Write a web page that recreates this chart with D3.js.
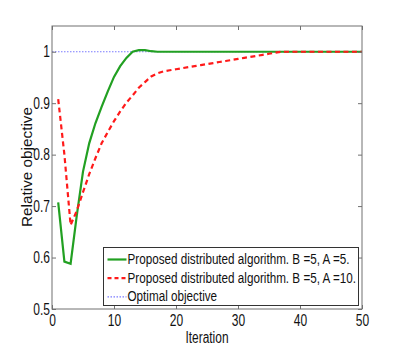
<!DOCTYPE html>
<html>
<head>
<meta charset="utf-8">
<script src="https://cdn.jsdelivr.net/npm/d3@7"></script>
<style>
  body { margin: 0; background: #fff; }
  svg text { font-family: "Liberation Sans", Arial, sans-serif; fill: #111; }
</style>
</head>
<body>
<svg id="chart" width="399" height="349"></svg>
<script>
'use strict';

// iterations 1..50
var iterations = d3.range(1, 51);

// B = 5, A = 5
var greenVals = [
  0.707, 0.592, 0.588, 0.682, 0.767, 0.822, 0.861, 0.893, 0.923, 0.951,
  0.972, 0.988, 1.000, 1.003, 1.003, 1.001, 1.000, 1.000, 1.000, 1.000,
  1.000, 1.000, 1.000, 1.000, 1.000, 1.000, 1.000, 1.000, 1.000, 1.000,
  1.000, 1.000, 1.000, 1.000, 1.000, 1.000, 1.000, 1.000, 1.000, 1.000,
  1.000, 1.000, 1.000, 1.000, 1.000, 1.000, 1.000, 1.000, 1.000, 1.000
];

// B = 5, A = 10
var redVals = [
  0.908, 0.800, 0.663, 0.691, 0.727, 0.762, 0.793, 0.822, 0.844, 0.865,
  0.884, 0.901, 0.915, 0.930, 0.941, 0.952, 0.958, 0.962, 0.964, 0.966,
  0.968, 0.970, 0.972, 0.974, 0.976, 0.978, 0.980, 0.982, 0.984, 0.986,
  0.988, 0.990, 0.992, 0.994, 0.996, 0.998, 1.000, 1.000, 1.000, 1.000,
  1.000, 1.000, 1.000, 1.000, 1.000, 1.000, 1.000, 1.000, 1.000, 1.000
];

var optimalIters = [0, 50];
var optimalVals = [1, 1];

var xTicks = [0, 10, 20, 30, 40, 50];
var yTicks = [0.5, 0.6, 0.7, 0.8, 0.9, 1];

var legendLabels = [
  "Proposed distributed algorithm. B =5, A =5.",
  "Proposed distributed algorithm. B =5, A =10.",
  "Optimal objective"
];

var margin = {top: 26, right: 37, bottom: 40, left: 52};
var W = 399, H = 349;

// squeeze text horizontally (MATLAB's narrow helvetica look)
function narrow(sel, k) {
  sel.each(function () {
    var len = this.getComputedTextLength();
    d3.select(this).attr("textLength", len * k).attr("lengthAdjust", "spacingAndGlyphs");
  });
}

var svg = d3.select("#chart");
var x = d3.scaleLinear().domain([0, 50]).range([margin.left, W - margin.right]);
var y = d3.scaleLinear().domain([0.5, 1.05]).range([H - margin.bottom, margin.top]);

var axisColor = "#707070";

var line = d3.line().x(function (d) { return x(d[0]); }).y(function (d) { return y(d[1]); });

var plot = svg.append("g");
plot.append("path")
  .datum(optimalIters.map(function (t, i) { return [t, optimalVals[i]]; }))
  .attr("d", line).attr("fill", "none")
  .attr("stroke", "#7b7bff").attr("stroke-width", 1.2).attr("stroke-dasharray", "1.5,1.5");

plot.append("path")
  .datum(iterations.map(function (t, i) { return [t, greenVals[i]]; }))
  .attr("d", line).attr("fill", "none")
  .attr("stroke", "#22a022").attr("stroke-width", 2.2);

plot.append("path")
  .datum(iterations.map(function (t, i) { return [t, redVals[i]]; }))
  .attr("d", line).attr("fill", "none")
  .attr("stroke", "#ff1a1a").attr("stroke-width", 2.2).attr("stroke-dasharray", "5,3.5");

// box + ticks, inward and mirrored
var x0 = x.range()[0], x1 = x.range()[1], yb = y(0.5), yt = y(1.05);

svg.append("g").attr("transform", "translate(0," + yb + ")")
  .call(d3.axisBottom(x).tickValues(xTicks).tickSize(-4).tickPadding(6).tickFormat(d3.format("d")))
  .call(function (g) { g.select(".domain").remove(); });
svg.append("g").attr("transform", "translate(0," + yt + ")")
  .call(d3.axisTop(x).tickValues(xTicks).tickSize(-4).tickFormat(""))
  .call(function (g) { g.select(".domain").remove(); });
svg.append("g").attr("transform", "translate(" + x0 + ",0)")
  .call(d3.axisLeft(y).tickValues(yTicks).tickSize(-4).tickPadding(2).tickFormat(function (d) { return d === 1 ? "1" : d.toFixed(1); }))
  .call(function (g) { g.select(".domain").remove(); });
svg.append("g").attr("transform", "translate(" + x1 + ",0)")
  .call(d3.axisRight(y).tickValues(yTicks).tickSize(-4).tickFormat(""))
  .call(function (g) { g.select(".domain").remove(); });

svg.selectAll(".tick line").attr("stroke", axisColor);
var tickText = svg.selectAll(".tick text").attr("font-size", 16).style("fill", "#111")
  .attr("font-family", "Liberation Sans, Arial, sans-serif");
narrow(tickText, 0.75);

svg.append("rect")
  .attr("x", x0).attr("y", yt).attr("width", x1 - x0).attr("height", yb - yt)
  .attr("fill", "none").attr("stroke", axisColor).attr("stroke-width", 1);

// axis labels
svg.append("text")
  .attr("x", (x0 + x1) / 2).attr("y", 343)
  .attr("text-anchor", "middle").attr("font-size", 16)
  .attr("textLength", 43).attr("lengthAdjust", "spacingAndGlyphs")
  .text("Iteration");
svg.append("text")
  .attr("transform", "translate(31.5,167) rotate(-90)")
  .attr("text-anchor", "middle").attr("font-size", 15.5)
  .attr("textLength", 120).attr("lengthAdjust", "spacingAndGlyphs")
  .text("Relative objective");

// legend
var lg = svg.append("g").attr("transform", "translate(103.5,247.5)");
lg.append("rect").attr("width", 255).attr("height", 58)
  .attr("fill", "#fff").attr("stroke", "#333").attr("stroke-width", 1);

var legendStyles = [
  {stroke: "#22a022", dash: null, w: 2.2},
  {stroke: "#ff1a1a", dash: "4,3", w: 2.2},
  {stroke: "#7b7bff", dash: "1.5,1.5", w: 1.2}
];
var legTexts = [];
legendLabels.forEach(function (lab, i) {
  var cy = 12 + i * 18.7;
  lg.append("line").attr("x1", 4).attr("x2", 23).attr("y1", cy).attr("y2", cy)
    .attr("stroke", legendStyles[i].stroke).attr("stroke-width", legendStyles[i].w)
    .attr("stroke-dasharray", legendStyles[i].dash);
  legTexts.push(lg.append("text").attr("class", "leg").attr("x", 24).attr("y", cy + 4.5)
    .attr("font-size", 14).text(lab).node());
});
var legK = 222 / legTexts[0].getComputedTextLength();
narrow(lg.selectAll("text.leg"), legK);
</script>
</body>
</html>
